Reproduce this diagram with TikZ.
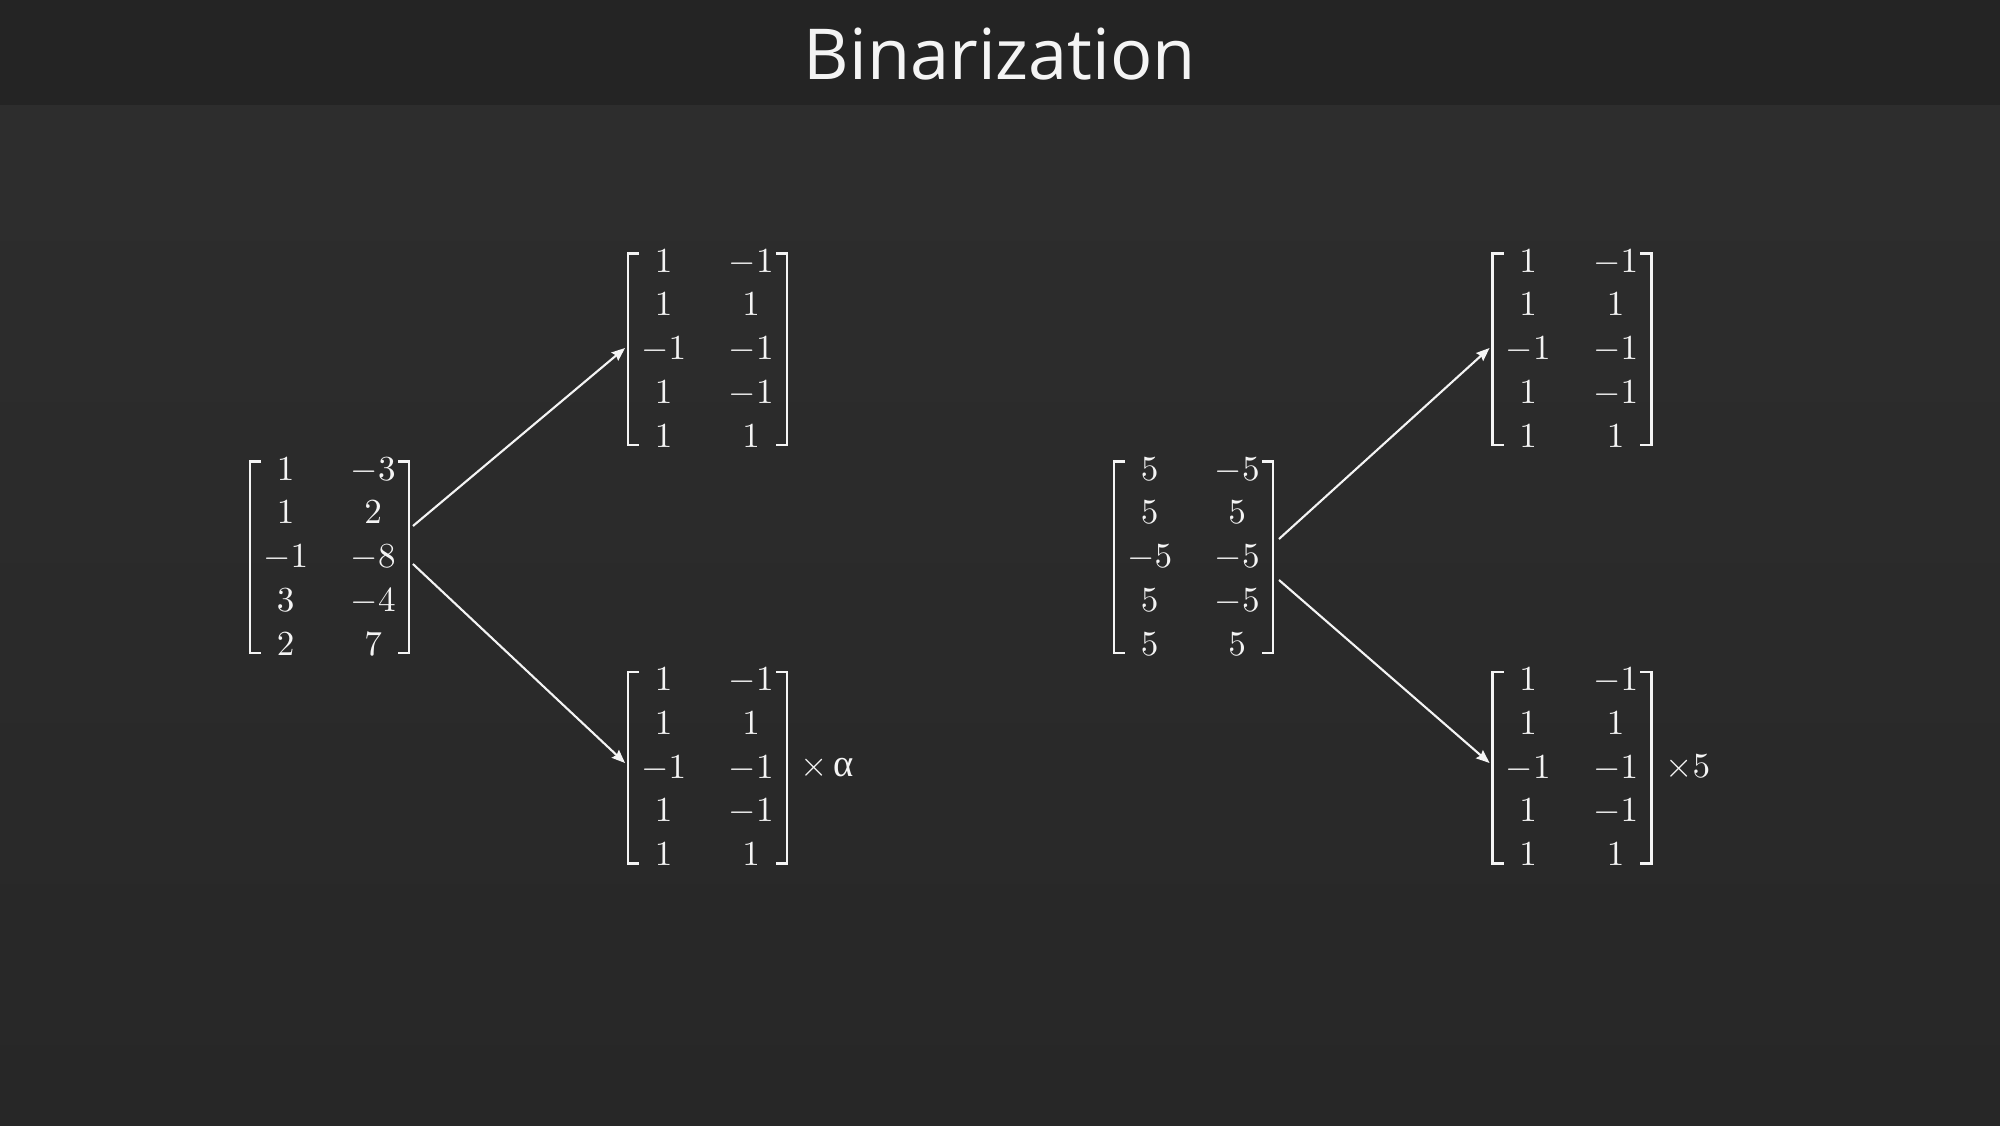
\documentclass[tikz,border=0pt]{standalone}
\usepackage{amsmath}
\usepackage{fontspec}
\usetikzlibrary{arrows.meta, positioning, matrix}
\newfontfamily\titlefont{Open Sans}
\newfontfamily\greekfont{Liberation Serif}
\definecolor{slideBar}{HTML}{242424}
\definecolor{slideTop}{HTML}{2E2E2E}
\definecolor{slideBot}{HTML}{272727}
\definecolor{chalk}{HTML}{F4F4F4}
\tikzset{
  arrowW/.style={-{Stealth[length=3.8pt, width=3pt, inset=0.5pt]}, chalk, line width=0.6pt},
  matW/.style={matrix of math nodes, inner sep=0pt, column sep=0.375cm, row sep=0pt,
               nodes={inner sep=0pt, minimum width=0.5cm, minimum height=0.437cm,
                      text height=0.68em, text depth=0.1em, text=chalk}},
  brk/.style={chalk, line width=0.75pt},
  labelW/.style={text=chalk, inner sep=0pt},
}

\begin{document}
\begin{tikzpicture}[font=\normalsize]
    \useasboundingbox (0,0) rectangle (20,11.25);
    % slide background and title bar
    \shade[top color=slideTop, bottom color=slideBot] (0,0) rectangle (20,11.25);
    \fill[slideBar] (0,10.195) rectangle (20,11.25);
    \node[text=chalk, anchor=base, font=\titlefont\fontsize{20}{24}\selectfont] (title) at (10,10.45) {Binarization};

    % left: real weights
    \matrix[matW] (L) at (3.295,5.675) {
      1 & -3 \\ 1 & 2 \\ -1 & -8 \\ 3 & -4 \\ 2 & 7 \\
    };
    \matrix[matW] (LT) at (7.075,7.755) {
      1 & -1 \\ 1 & 1 \\ -1 & -1 \\ 1 & -1 \\ 1 & 1 \\
    };
    \matrix[matW] (LB) at (7.075,3.57) {
      1 & -1 \\ 1 & 1 \\ -1 & -1 \\ 1 & -1 \\ 1 & 1 \\
    };
    \node[labelW, right=0.23cm of LB] (alpha) {$\times$\,{\greekfont\fontsize{11}{12}\selectfont α}};

    % right: constant weights
    \matrix[matW] (R) at (11.935,5.675) {
      5 & -5 \\ 5 & 5 \\ -5 & -5 \\ 5 & -5 \\ 5 & 5 \\
    };
    \matrix[matW] (RT) at (15.72,7.755) {
      1 & -1 \\ 1 & 1 \\ -1 & -1 \\ 1 & -1 \\ 1 & 1 \\
    };
    \matrix[matW] (RB) at (15.72,3.57) {
      1 & -1 \\ 1 & 1 \\ -1 & -1 \\ 1 & -1 \\ 1 & 1 \\
    };
    \node[labelW, right=0.23cm of RB] (five) {$\times 5$};

    % brackets
    \foreach \m in {L, LT, LB, R, RT, RB} {
      \draw[brk] ([shift={(0.01,-0.14)}]\m.north west) -- ([shift={(-0.1,-0.14)}]\m.north west)
        -- ([shift={(-0.1,0.145)}]\m.south west) -- ([shift={(0.01,0.145)}]\m.south west);
      \draw[brk] ([shift={(-0.01,-0.14)}]\m.north east) -- ([shift={(0.1,-0.14)}]\m.north east)
        -- ([shift={(0.1,0.145)}]\m.south east) -- ([shift={(-0.01,0.145)}]\m.south east);
    }

    \draw[arrowW] ([shift={(0.14,0.315)}]L.east) -- ([shift={(-0.13,0.015)}]LT.west);
    \draw[arrowW] ([shift={(0.14,-0.065)}]L.east) -- ([shift={(-0.13,0.05)}]LB.west);
    \draw[arrowW] ([shift={(0.16,0.185)}]R.east) -- ([shift={(-0.13,0.015)}]RT.west);
    \draw[arrowW] ([shift={(0.16,-0.225)}]R.east) -- ([shift={(-0.13,0.05)}]RB.west);
\end{tikzpicture}
\end{document}
